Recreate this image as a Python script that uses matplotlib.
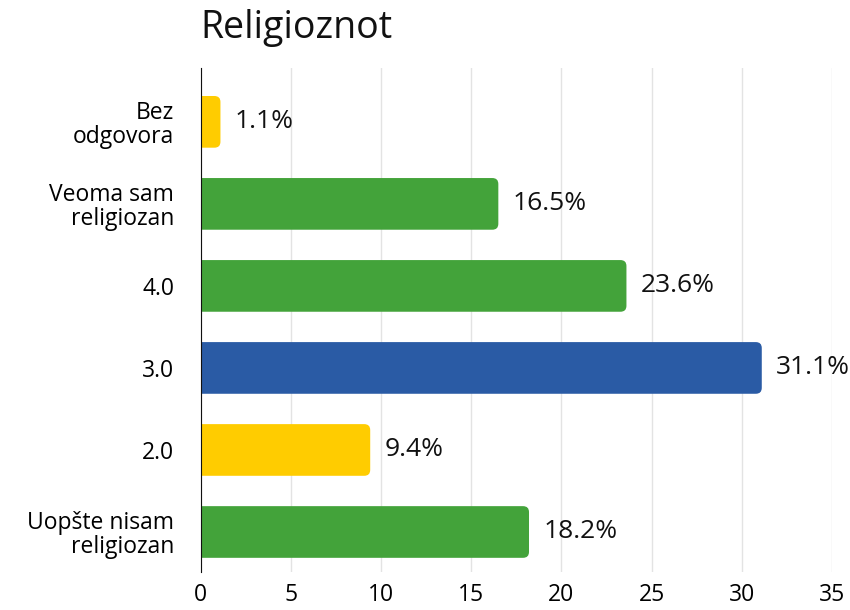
import matplotlib
matplotlib.use('Agg')
import matplotlib.pyplot as plt
from matplotlib.patches import FancyBboxPatch

plt.rcParams['font.family'] = ['Open Sans', 'DejaVu Sans']

categories = ['Bez\nodgovora', 'Veoma sam\nreligiozan', '4.0', '3.0', '2.0', 'Uopšte nisam\nreligiozan']
values = [1.1, 16.5, 23.6, 31.1, 9.4, 18.2]
colors = ['#FFCC00', '#43A33A', '#43A33A', '#2A5BA5', '#FFCC00', '#43A33A']
xticks = [0, 5, 10, 15, 20, 25, 30, 35]

fig = plt.figure(figsize=(8.5, 6.1), dpi=100)
ax = fig.add_axes([0.236, 0.062, 0.743, 0.827])

ypos = list(range(len(categories)))[::-1]
bars = ax.barh(ypos, values, height=0.63, color='none')

ax.set_xlim(0, 35)
ax.set_ylim(-0.49, 5.66)

# rounded bar ends
r = 0.33
for b, c in zip(bars, colors):
    x0, y0 = b.get_x(), b.get_y()
    w, h = b.get_width(), b.get_height()
    p = FancyBboxPatch((x0 - r, y0), w + r, h,
                       boxstyle=f"round,pad=0,rounding_size={r}",
                       mutation_aspect=0.22, facecolor=c, edgecolor='none', zorder=2)
    ax.add_patch(p)
    ax.text(w + 0.8, y0 + h / 2, f"{w}%", va='center', ha='left', fontsize=19, color='#111111')

ax.set_yticks(ypos)
ax.set_yticklabels(categories, fontsize=16.5, ha='right', linespacing=1.0)
ax.set_xticks(xticks)
ax.set_xticklabels([str(t) for t in xticks], fontsize=16.5)
ax.tick_params(length=0, pad=8)
ax.tick_params(axis='y', pad=19)

ax.grid(axis='x', color='#e3e3e3', linewidth=1, zorder=0)
ax.set_axisbelow(True)
for s in ['top', 'right', 'bottom']:
    ax.spines[s].set_visible(False)
ax.spines['left'].set_color('#111111')
ax.spines['left'].set_zorder(3)

fig.text(0.236, 0.954, 'Religioznot', fontsize=27, fontweight='medium', ha='left', va='center', color='#111111')

fig.savefig('out.png', dpi=100)
